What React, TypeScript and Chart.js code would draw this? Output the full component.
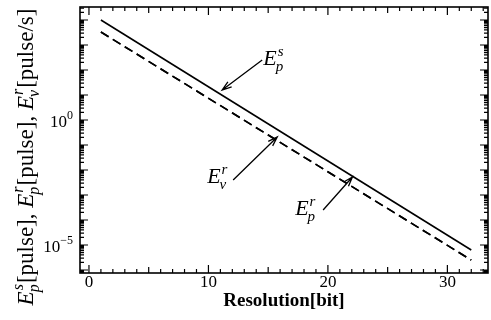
import React, { useEffect, useRef } from 'react';
import { Chart, registerables } from 'chart.js';

Chart.register(...registerables);

// ---- data ----
const bits = [1, 32];
const epsValues = [1.0e4, 6.3e-6]; // E_p^s [pulse]
const eprValues = [3.3e3, 2.5e-6]; // E_p^r [pulse]
const evrValues = [3.3e3, 2.5e-6]; // E_v^r [pulse/s]

const xTickLabels = [0, 10, 20, 30];
const xTickMin = 0;
const xTickMax = 33;
const yLabelExponents = [0, -5];
const yDecadeMin = -7;
const yDecadeMax = 5;

const xMin = -0.75;
const xMax = 33.4;
const yMin = Math.pow(10, -6.12);
const yMax = Math.pow(10, 4.52);

const xTitle = 'Resolution[bit]';
const yTitleParts = [
  { base: 'E', sub: 'p', sup: 's', text: '[pulse], ' },
  { base: 'E', sub: 'p', sup: 'r', text: '[pulse], ' },
  { base: 'E', sub: 'v', sup: 'r', text: '[pulse/s]' },
];

const annotations = [
  { base: 'E', sub: 'p', sup: 's', tip: [11.15, Math.pow(10, 1.2)], tail: [14.5, Math.pow(10, 2.4)], dx: 1, dy: 5 },
  { base: 'E', sub: 'v', sup: 'r', tip: [15.76, Math.pow(10, -0.68)], tail: [12.07, Math.pow(10, -2.4)], dx: -26, dy: 3 },
  { base: 'E', sub: 'p', sup: 'r', tip: [22.05, Math.pow(10, -2.28)], tail: [19.6, Math.pow(10, -3.6)], dx: -28, dy: 5 },
];

const SERIF = '"Liberation Serif", "Times New Roman", serif';

function drawEsym(ctx: CanvasRenderingContext2D, x: number, y: number, base: string, sub: string, sup: string, size: number) {
  ctx.textAlign = 'left';
  ctx.textBaseline = 'alphabetic';
  ctx.font = `italic ${size}px ${SERIF}`;
  ctx.fillText(base, x, y);
  const w = ctx.measureText(base).width;
  const small = Math.round(size * 0.68);
  ctx.font = `italic ${small}px ${SERIF}`;
  ctx.fillText(sub, x + w - 1, y + size * 0.25);
  ctx.fillText(sup, x + w + 1, y - size * 0.42);
  const ws = Math.max(ctx.measureText(sub).width - 1, ctx.measureText(sup).width + 1);
  return w + ws + 1;
}

const framePlugin = {
  id: 'framePlugin',
  afterDraw(chart: any) {
    const ctx: CanvasRenderingContext2D = chart.ctx;
    const { left, right, top, bottom } = chart.chartArea;
    const xs = chart.scales.x;
    const ys = chart.scales.y;
    ctx.save();
    ctx.strokeStyle = '#000';
    ctx.fillStyle = '#000';
    // frame
    ctx.lineWidth = 1.6;
    ctx.strokeRect(left, top, right - left, bottom - top);
    // x ticks (bottom and top, inward)
    ctx.lineWidth = 1.2;
    ctx.beginPath();
    for (let v = xTickMin; v <= xTickMax; v++) {
      const px = xs.getPixelForValue(v);
      const len = v % 10 === 0 ? 8 : v % 5 === 0 ? 6 : 4;
      ctx.moveTo(px, bottom);
      ctx.lineTo(px, bottom - len);
      ctx.moveTo(px, top);
      ctx.lineTo(px, top + len);
    }
    // y ticks (left and right, inward)
    for (let k = yDecadeMin; k <= yDecadeMax; k++) {
      for (let m = 1; m <= 9; m++) {
        const val = m * Math.pow(10, k);
        if (val < yMin || val > yMax) continue;
        const py = ys.getPixelForValue(val);
        const len = m === 1 ? 8 : 4;
        ctx.moveTo(left, py);
        ctx.lineTo(left + len, py);
        ctx.moveTo(right, py);
        ctx.lineTo(right - len, py);
      }
    }
    ctx.stroke();

    // y tick labels 10^k
    for (const e of yLabelExponents) {
      const py = ys.getPixelForValue(Math.pow(10, e));
      const expStr = e < 0 ? '\u2212' + String(-e) : String(e);
      ctx.font = `12px ${SERIF}`;
      const we = ctx.measureText(expStr).width;
      ctx.font = `17px ${SERIF}`;
      const wb = ctx.measureText('10').width;
      const endX = left - 7;
      const baseX = endX - we - wb;
      ctx.textAlign = 'left';
      ctx.textBaseline = 'alphabetic';
      ctx.fillText('10', baseX, py + 7);
      ctx.font = `12px ${SERIF}`;
      ctx.fillText(expStr, baseX + wb, py - 1);
    }

    // y title (rotated)
    ctx.save();
    ctx.translate(33, 157);
    ctx.rotate(-Math.PI / 2);
    const size = 23;
    let total = 0;
    for (const p of yTitleParts) {
      ctx.font = `italic ${size}px ${SERIF}`;
      const w = ctx.measureText(p.base).width;
      ctx.font = `italic ${Math.round(size * 0.68)}px ${SERIF}`;
      const ws = Math.max(ctx.measureText(p.sub).width - 1, ctx.measureText(p.sup).width + 1);
      ctx.font = `${size}px ${SERIF}`;
      total += w + ws + 1 + ctx.measureText(p.text).width;
    }
    let cx = -total / 2;
    for (const p of yTitleParts) {
      cx += drawEsym(ctx, cx, 0, p.base, p.sub, p.sup, size);
      ctx.font = `${size}px ${SERIF}`;
      ctx.textAlign = 'left';
      ctx.fillText(p.text, cx, 0);
      cx += ctx.measureText(p.text).width;
    }
    ctx.restore();

    // annotations with arrows
    for (const a of annotations) {
      const tx = xs.getPixelForValue(a.tip[0]);
      const ty = ys.getPixelForValue(a.tip[1]);
      const sx = xs.getPixelForValue(a.tail[0]);
      const sy = ys.getPixelForValue(a.tail[1]);
      ctx.lineWidth = 1.3;
      ctx.beginPath();
      ctx.moveTo(sx, sy);
      ctx.lineTo(tx, ty);
      const ang = Math.atan2(ty - sy, tx - sx);
      const hl = 10;
      const spread = 0.32;
      ctx.moveTo(tx - hl * Math.cos(ang - spread), ty - hl * Math.sin(ang - spread));
      ctx.lineTo(tx, ty);
      ctx.lineTo(tx - hl * Math.cos(ang + spread), ty - hl * Math.sin(ang + spread));
      ctx.stroke();
      drawEsym(ctx, sx + a.dx, sy + a.dy, a.base, a.sub, a.sup, 22);
    }
    ctx.restore();
  },
};

export default function App() {
  const ref = useRef<HTMLCanvasElement | null>(null);
  useEffect(() => {
    if (!ref.current) return;
    const chart = new Chart(ref.current, {
      type: 'line',
      data: {
        datasets: [
          {
            label: 'E_p^s',
            data: bits.map((b, i) => ({ x: b, y: epsValues[i] })),
            borderColor: '#000',
            borderWidth: 1.6,
            pointRadius: 0,
            fill: false,
          },
          {
            label: 'E_p^r',
            data: bits.map((b, i) => ({ x: b, y: eprValues[i] })),
            borderColor: '#000',
            borderWidth: 1.6,
            borderDash: [9, 5],
            pointRadius: 0,
            fill: false,
          },
          {
            label: 'E_v^r',
            data: bits.map((b, i) => ({ x: b, y: evrValues[i] })),
            borderColor: '#000',
            borderWidth: 1.6,
            borderDash: [9, 5],
            pointRadius: 0,
            fill: false,
          },
        ],
      },
      options: {
        animation: false,
        responsive: false,
        events: [],
        layout: { padding: { left: 80, right: 3, top: 7, bottom: 0 } },
        plugins: {
          legend: { display: false },
          tooltip: { enabled: false },
          title: { display: false },
        },
        scales: {
          x: {
            type: 'linear',
            min: xMin,
            max: xMax,
            grid: { display: false, drawTicks: false },
            border: { display: false },
            afterBuildTicks: (scale: any) => {
              scale.ticks = xTickLabels.map((v) => ({ value: v }));
            },
            afterFit: (scale: any) => {
              scale.height = 47;
            },
            ticks: {
              color: '#000',
              font: { family: SERIF, size: 17, lineHeight: 1.1 },
              padding: 0,
              maxRotation: 0,
              autoSkip: false,
            },
            title: {
              display: true,
              text: xTitle,
              color: '#000',
              font: { family: SERIF, size: 19, weight: 'bold', lineHeight: 1.2 },
              padding: { top: 0, bottom: 8 },
            },
          },
          y: {
            type: 'logarithmic',
            min: yMin,
            max: yMax,
            display: false,
          },
        },
      },
      plugins: [framePlugin],
    });
    return () => chart.destroy();
  }, []);
  return (
    <div style={{ position: 'absolute', left: 0, top: 0, width: 491, height: 320, background: '#fff' }}>
      <canvas ref={ref} width={491} height={320} />
    </div>
  );
}
